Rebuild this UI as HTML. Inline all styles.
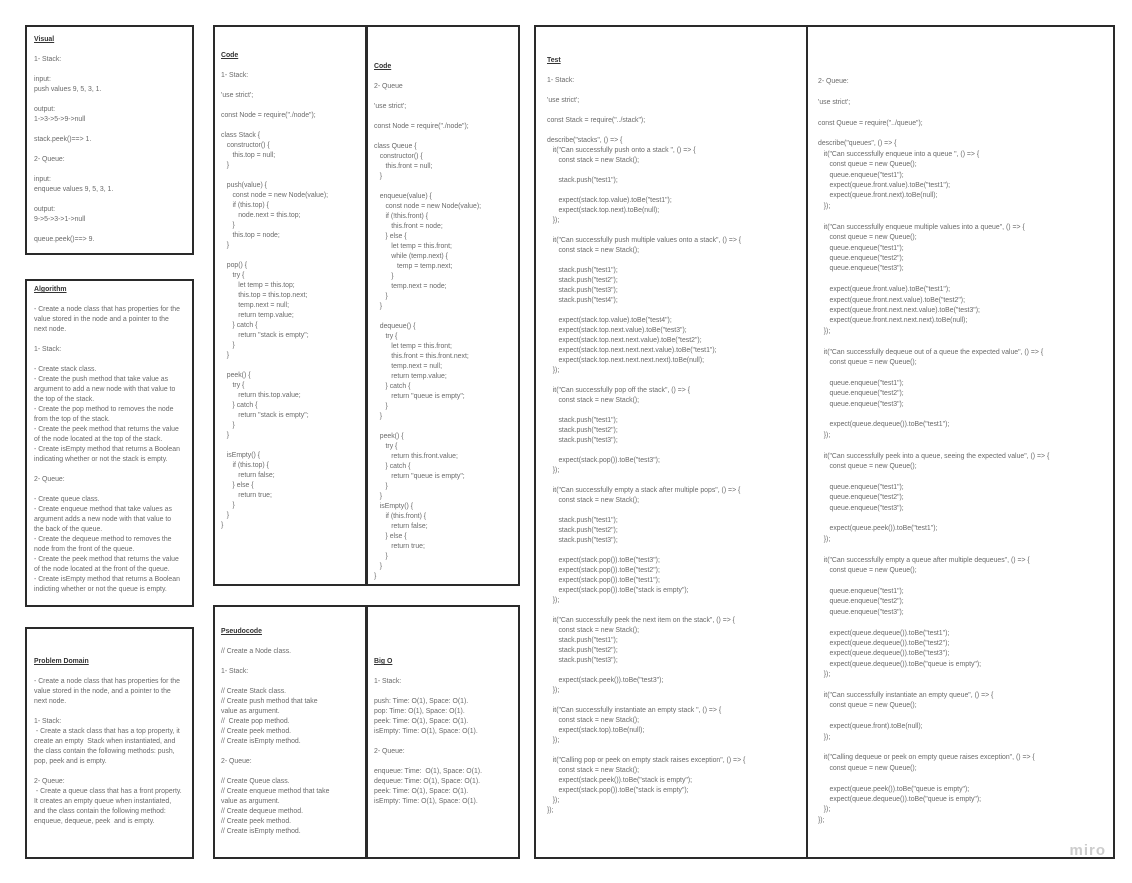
<!DOCTYPE html>
<html><head><meta charset="utf-8"><style>
body{margin:0;width:1132px;height:883px;background:#fff;position:relative;overflow:hidden;font-family:"Liberation Sans",sans-serif;}
.b{position:absolute;border:2px solid #2a2a2a;box-sizing:border-box;background:#fff}
.t{position:absolute;white-space:pre;font-size:6.9px;line-height:10px;color:#6a6a6a;}
.t b{color:#333;text-decoration:underline;font-weight:bold}
.m{position:absolute;right:26px;bottom:24px;color:#ccc;font-size:15px;font-weight:bold;letter-spacing:1px}
</style></head><body>
<div class="b" style="left:25px;top:25px;width:169px;height:230px"></div>
<div class="t" style="left:34px;top:35px"><b>Visual</b>

1- Stack:

input:
push values 9, 5, 3, 1.

output:
1-&gt;3-&gt;5-&gt;9-&gt;null

stack.peek()==&gt; 1.

2- Queue:

input:
enqueue values 9, 5, 3, 1.

output:
9-&gt;5-&gt;3-&gt;1-&gt;null

queue.peek()==&gt; 9.</div>

<div class="b" style="left:25px;top:279px;width:169px;height:328px"></div>
<div class="t" style="left:34px;top:285px"><b>Algorithm</b>

- Create a node class that has properties for the
value stored in the node and a pointer to the
next node.

1- Stack:

- Create stack class.
- Create the push method that take value as
argument to add a new node with that value to
the top of the stack.
- Create the pop method to removes the node
from the top of the stack.
- Create the peek method that returns the value
of the node located at the top of the stack.
- Create isEmpty method that returns a Boolean
indicating whether or not the stack is empty.

2- Queue:

- Create queue class.
- Create enqueue method that take values as
argument adds a new node with that value to
the back of the queue.
- Create the dequeue method to removes the
node from the front of the queue.
- Create the peek method that returns the value
of the node located at the front of the queue.
- Create isEmpty method that returns a Boolean
indicting whether or not the queue is empty.</div>

<div class="b" style="left:25px;top:627px;width:169px;height:232px"></div>
<div class="t" style="left:34px;top:657px"><b>Problem Domain</b>

- Create a node class that has properties for the
value stored in the node, and a pointer to the
next node.

1- Stack:
 - Create a stack class that has a top property, it
create an empty  Stack when instantiated, and
the class contain the following methods: push,
pop, peek and is empty.

2- Queue:
 - Create a queue class that has a front property.
It creates an empty queue when instantiated,
and the class contain the following method:
enqueue, dequeue, peek  and is empty.</div>

<div class="b" style="left:213px;top:25px;width:154px;height:561px"></div>
<div class="t" style="left:221px;top:51px"><b>Code</b>

1- Stack:

'use strict';

const Node = require("./node");

class Stack {
   constructor() {
      this.top = null;
   }

   push(value) {
      const node = new Node(value);
      if (this.top) {
         node.next = this.top;
      }
      this.top = node;
   }

   pop() {
      try {
         let temp = this.top;
         this.top = this.top.next;
         temp.next = null;
         return temp.value;
      } catch {
         return "stack is empty";
      }
   }

   peek() {
      try {
         return this.top.value;
      } catch {
         return "stack is empty";
      }
   }

   isEmpty() {
      if (this.top) {
         return false;
      } else {
         return true;
      }
   }
}</div>

<div class="b" style="left:366px;top:25px;width:154px;height:561px"></div>
<div class="t" style="left:374px;top:62px"><b>Code</b>

2- Queue

'use strict';

const Node = require("./node");

class Queue {
   constructor() {
      this.front = null;
   }

   enqueue(value) {
      const node = new Node(value);
      if (!this.front) {
         this.front = node;
      } else {
         let temp = this.front;
         while (temp.next) {
            temp = temp.next;
         }
         temp.next = node;
      }
   }

   dequeue() {
      try {
         let temp = this.front;
         this.front = this.front.next;
         temp.next = null;
         return temp.value;
      } catch {
         return "queue is empty";
      }
   }

   peek() {
      try {
         return this.front.value;
      } catch {
         return "queue is empty";
      }
   }
   isEmpty() {
      if (this.front) {
         return false;
      } else {
         return true;
      }
   }
}</div>

<div class="b" style="left:213px;top:605px;width:154px;height:254px"></div>
<div class="t" style="left:221px;top:627px"><b>Pseudocode</b>

// Create a Node class.

1- Stack:

// Create Stack class.
// Create push method that take
value as argument.
//  Create pop method.
// Create peek method.
// Create isEmpty method.

2- Queue:

// Create Queue class.
// Create enqueue method that take
value as argument.
// Create dequeue method.
// Create peek method.
// Create isEmpty method.</div>

<div class="b" style="left:366px;top:605px;width:154px;height:254px"></div>
<div class="t" style="left:374px;top:657px"><b>Big O</b>

1- Stack:

push: Time: O(1), Space: O(1).
pop: Time: O(1), Space: O(1).
peek: Time: O(1), Space: O(1).
isEmpty: Time: O(1), Space: O(1).

2- Queue:

enqueue: Time:  O(1), Space: O(1).
dequeue: Time: O(1), Space: O(1).
peek: Time: O(1), Space: O(1).
isEmpty: Time: O(1), Space: O(1).</div>

<div class="b" style="left:534px;top:25px;width:274px;height:834px"></div>
<div class="t" style="left:547px;top:56px;line-height:10px"><b>Test</b>

1- Stack:

'use strict';

const Stack = require("../stack");

describe("stacks", () =&gt; {
   it("Can successfully push onto a stack ", () =&gt; {
      const stack = new Stack();

      stack.push("test1");

      expect(stack.top.value).toBe("test1");
      expect(stack.top.next).toBe(null);
   });

   it("Can successfully push multiple values onto a stack", () =&gt; {
      const stack = new Stack();

      stack.push("test1");
      stack.push("test2");
      stack.push("test3");
      stack.push("test4");

      expect(stack.top.value).toBe("test4");
      expect(stack.top.next.value).toBe("test3");
      expect(stack.top.next.next.value).toBe("test2");
      expect(stack.top.next.next.next.value).toBe("test1");
      expect(stack.top.next.next.next.next).toBe(null);
   });

   it("Can successfully pop off the stack", () =&gt; {
      const stack = new Stack();

      stack.push("test1");
      stack.push("test2");
      stack.push("test3");

      expect(stack.pop()).toBe("test3");
   });

   it("Can successfully empty a stack after multiple pops", () =&gt; {
      const stack = new Stack();

      stack.push("test1");
      stack.push("test2");
      stack.push("test3");

      expect(stack.pop()).toBe("test3");
      expect(stack.pop()).toBe("test2");
      expect(stack.pop()).toBe("test1");
      expect(stack.pop()).toBe("stack is empty");
   });

   it("Can successfully peek the next item on the stack", () =&gt; {
      const stack = new Stack();
      stack.push("test1");
      stack.push("test2");
      stack.push("test3");

      expect(stack.peek()).toBe("test3");
   });

   it("Can successfully instantiate an empty stack ", () =&gt; {
      const stack = new Stack();
      expect(stack.top).toBe(null);
   });

   it("Calling pop or peek on empty stack raises exception", () =&gt; {
      const stack = new Stack();
      expect(stack.peek()).toBe("stack is empty");
      expect(stack.pop()).toBe("stack is empty");
   });
});</div>

<div class="b" style="left:806px;top:25px;width:309px;height:834px"></div>
<div class="t" style="left:818px;top:77px;line-height:10.4px">2- Queue:

'use strict';

const Queue = require("../queue");

describe("queues", () =&gt; {
   it("Can successfully enqueue into a queue ", () =&gt; {
      const queue = new Queue();
      queue.enqueue("test1");
      expect(queue.front.value).toBe("test1");
      expect(queue.front.next).toBe(null);
   });

   it("Can successfully enqueue multiple values into a queue", () =&gt; {
      const queue = new Queue();
      queue.enqueue("test1");
      queue.enqueue("test2");
      queue.enqueue("test3");

      expect(queue.front.value).toBe("test1");
      expect(queue.front.next.value).toBe("test2");
      expect(queue.front.next.next.value).toBe("test3");
      expect(queue.front.next.next.next).toBe(null);
   });

   it("Can successfully dequeue out of a queue the expected value", () =&gt; {
      const queue = new Queue();

      queue.enqueue("test1");
      queue.enqueue("test2");
      queue.enqueue("test3");

      expect(queue.dequeue()).toBe("test1");
   });

   it("Can successfully peek into a queue, seeing the expected value", () =&gt; {
      const queue = new Queue();

      queue.enqueue("test1");
      queue.enqueue("test2");
      queue.enqueue("test3");

      expect(queue.peek()).toBe("test1");
   });

   it("Can successfully empty a queue after multiple dequeues", () =&gt; {
      const queue = new Queue();

      queue.enqueue("test1");
      queue.enqueue("test2");
      queue.enqueue("test3");

      expect(queue.dequeue()).toBe("test1");
      expect(queue.dequeue()).toBe("test2");
      expect(queue.dequeue()).toBe("test3");
      expect(queue.dequeue()).toBe("queue is empty");
   });

   it("Can successfully instantiate an empty queue", () =&gt; {
      const queue = new Queue();

      expect(queue.front).toBe(null);
   });

   it("Calling dequeue or peek on empty queue raises exception", () =&gt; {
      const queue = new Queue();

      expect(queue.peek()).toBe("queue is empty");
      expect(queue.dequeue()).toBe("queue is empty");
   });
});</div>
<div class="m">miro</div>
</body></html>
